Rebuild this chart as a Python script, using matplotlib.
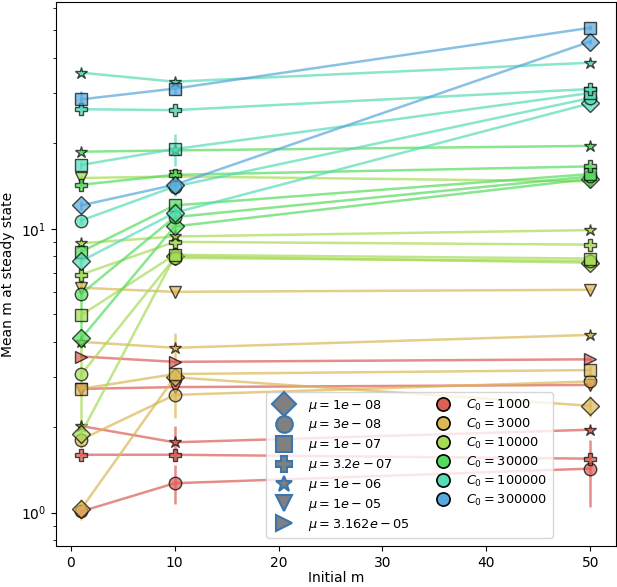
import numpy as np
import matplotlib
matplotlib.use("Agg")
import matplotlib.pyplot as plt
from matplotlib.lines import Line2D
import colorsys

nan = np.nan
initial_m = [1, 10, 50]
mu_labels = ["1e-08", "3e-08", "1e-07", "3.2e-07", "1e-06", "1e-05", "3.162e-05"]
mu_markers = ["D", "o", "s", "P", "*", "v", ">"]
c0_labels = ["1000", "3000", "10000", "30000", "100000", "300000"]

# mean m at steady state, rows = mu (in mu_labels order), cols = initial m
m_c1000 = [[nan, nan, nan], [1.01, 1.27, 1.43], [nan, nan, nan], [1.60, 1.60, 1.55],
           [2.02, 1.77, 1.96], [2.73, 2.77, 2.82], [3.55, 3.40, 3.47]]
m_c3000 = [[1.03, 3.00, 2.38], [1.81, 2.60, 2.90], [2.73, 3.08, 3.18], [nan, nan, nan],
           [4.00, 3.81, 4.23], [6.20, 6.00, 6.10], [nan, nan, nan]]
m_c10000 = [[1.90, 8.00, 7.60], [3.07, 7.90, 7.70], [4.97, 8.10, 7.86], [6.90, 9.00, 8.80],
            [8.90, 9.40, 9.90], [15.1, 15.3, 14.7], [nan, nan, nan]]
m_c30000 = [[4.11, 10.2, 15.0], [5.90, 11.0, 15.3], [8.30, 12.1, 15.6], [14.3, 15.5, 16.6],
            [18.7, 18.9, 19.6], [nan, nan, nan], [nan, nan, nan]]
m_c100000 = [[7.70, 11.4, 27.7], [10.7, 14.1, 28.9], [16.8, 19.1, 30.1], [26.4, 26.2, 31.1],
             [35.5, 33.0, 38.5], [nan, nan, nan], [nan, nan, nan]]
m_c300000 = [[12.1, 14.3, 45.7], [nan, nan, nan], [28.6, 31.2, 51.1], [nan, nan, nan],
             [nan, nan, nan], [nan, nan, nan], [nan, nan, nan]]

# error (standard deviation) of each mean
e_c1000 = [[0, 0, 0], [0.05, 0.20, 0.38], [0, 0, 0], [0.04, 0.05, 0.05],
           [0.05, 0.25, 0.05], [0.05, 0.05, 0.05], [0.05, 0.05, 0.05]]
e_c3000 = [[0.09, 0.10, 0.20], [0.10, 0.45, 0.10], [0.08, 0.10, 0.10], [0, 0, 0],
           [0.10, 0.50, 0.10], [0.10, 0.10, 0.10], [0, 0, 0]]
e_c10000 = [[0.20, 0.30, 0.20], [1.10, 0.30, 0.20], [0.20, 0.30, 0.20], [0.20, 0.30, 0.20],
            [0.20, 0.30, 0.20], [0.40, 0.40, 0.30], [0, 0, 0]]
e_c30000 = [[0.30, 0.40, 0.30], [1.50, 0.40, 0.30], [0.30, 0.40, 0.30], [0.40, 0.40, 0.40],
            [0.40, 0.40, 0.40], [0, 0, 0], [0, 0, 0]]
e_c100000 = [[0.30, 0.50, 0.50], [0.40, 0.50, 0.50], [0.50, 2.50, 0.50], [0.60, 0.60, 0.60],
             [0.80, 0.80, 0.80], [0, 0, 0], [0, 0, 0]]
e_c300000 = [[0.40, 1.20, 0.80], [0, 0, 0], [2.00, 1.50, 1.00], [0, 0, 0],
             [0, 0, 0], [0, 0, 0], [0, 0, 0]]

means = [m_c1000, m_c3000, m_c10000, m_c30000, m_c100000, m_c300000]
errs = [e_c1000, e_c3000, e_c10000, e_c30000, e_c100000, e_c300000]

# seaborn-like hls palette (9 hues, first 6 used)
hues = np.linspace(0, 1, 10)[:-1] + 0.01
colors = [colorsys.hls_to_rgb(h % 1, 0.6, 0.65) for h in hues[:6]]

fig = plt.figure(figsize=(6.17, 5.87), dpi=100)
ax = fig.add_axes([0.0903, 0.0698, 0.9077, 0.9268])

for ci, (mm, ee) in enumerate(zip(means, errs)):
    for mi in range(len(mu_labels)):
        y = np.array(mm[mi], dtype=float)
        if np.all(np.isnan(y)):
            continue
        ax.errorbar(initial_m, y, yerr=ee[mi], color=colors[ci], marker=mu_markers[mi],
                    markersize=9, markeredgecolor="black", markeredgewidth=1.0,
                    linewidth=1.8, elinewidth=1.8, alpha=0.7)

ax.set_yscale("log")
ax.set_ylim(0.763, 63)
ax.set_xlim(-1.45, 52.45)
ax.set_xlabel("Initial m", labelpad=1)
ax.set_ylabel("Mean m at steady state")

handles = []
for mk, lab in zip(mu_markers, mu_labels):
    handles.append(Line2D([], [], linestyle="none", marker=mk, markersize=12,
                          markerfacecolor="grey", markeredgecolor="#3a76ad",
                          markeredgewidth=1.5, label=r"$\mu = " + lab + "$"))
for col, lab in zip(colors, c0_labels):
    handles.append(Line2D([], [], linestyle="none", marker="o", markersize=9.5,
                          markerfacecolor=col, markeredgecolor="black",
                          markeredgewidth=1.2, label=r"$C_0 = " + lab + "$"))
ax.legend(handles=handles, ncol=2, loc="lower right", bbox_to_anchor=(0.8876, 0.0147),
          borderaxespad=0, fontsize=9.3, labelspacing=0.3, handletextpad=0.8,
          columnspacing=1.6)

fig.savefig("out.png", dpi=100)
